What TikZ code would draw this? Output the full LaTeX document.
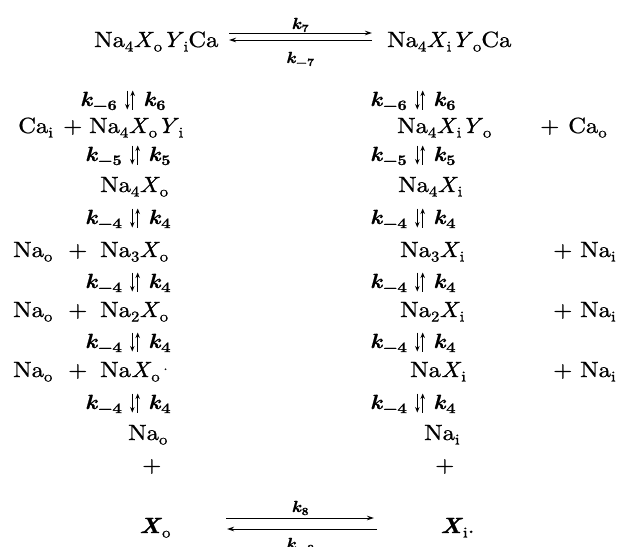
\documentclass[tikz,border=0pt]{standalone}
\usepackage{fontspec}
\setmainfont{lmroman10}[Extension=.otf, UprightFont=*-regular, BoldFont=*-bold, ItalicFont=*-italic, BoldItalicFont=*-bolditalic, FakeStretch=1.12, FakeBold=0.8]
\usetikzlibrary{arrows.meta}
\newcommand\sbs[1]{\raisebox{-4.5pt}{\fontsize{15}{15}\selectfont #1}}
\newcommand\kk[1]{\textbf{\textit{k}}\raisebox{-4pt}{\fontsize{14.5}{14.5}\selectfont\bfseries #1}}
\newcommand\hk[1]{\textbf{\textit{k}}\raisebox{-3pt}{\fontsize{11}{11}\selectfont\bfseries #1}}
\newcommand\iX{\textit{X}}
\newcommand\iY{\textit{Y}}
\newcommand\bX{\textbf{\textit{X}}}
\begin{document}
\begin{tikzpicture}[x=1pt,y=-1pt,
 sp/.style={anchor=base west, inner sep=0pt, font=\fontsize{22}{26}\selectfont},
 kl/.style={anchor=base east, inner sep=0pt, font=\fontsize{20.5}{24}\selectfont},
 kr/.style={anchor=base west, inner sep=0pt, font=\fontsize{20.5}{24}\selectfont},
 kh/.style={anchor=base, inner sep=0pt, font=\fontsize{16}{18}\selectfont},
 rx/.style={-{Stealth[length=7pt,width=4.5pt]}, line width=1pt},
 va/.style={-{Stealth[length=5.5pt,width=4.5pt]}, line width=0.9pt}]
\useasboundingbox (0,0) rectangle (623,546);

% top equilibrium
\node[sp] (t1) at (94,47) {Na\sbs{4}\iX\sbs{o}\iY\sbs{i}Ca};
\node[sp] (t2) at (387,47) {Na\sbs{4}\iX\sbs{i}\iY\sbs{o}Ca};
\coordinate (ta1) at (229,33); \coordinate (tb1) at (372,33);
\coordinate (ta2) at (372,40); \coordinate (tb2) at (229,40);
\draw[rx] (ta1) -- (tb1);
\draw[rx] (ta2) -- (tb2);
\node[kh] (k7) at (300,29) {\hk{7}};
\node[kh] (km7) at (300,63) {\hk{−7}};

% vertical double arrows with labels
\foreach \nm/\x/\y/\lab in {l6/130/100/6, l5/135/155/5, l4a/135/218/4, l4b/135/282/4, l4c/135/342/4, l4d/135/403/4,
                          r6/420/100/6, r5/420/155/5, r4a/420/218/4, r4b/420/282/4, r4c/420/342/4, r4d/420/403/4}{
  \coordinate (v\nm) at (\x,\y);
  \draw[va] ([xshift=-2.7pt,yshift=9.5pt]v\nm) -- ([xshift=-2.7pt,yshift=-9.5pt]v\nm);
  \draw[va] ([xshift=2.7pt,yshift=-9.5pt]v\nm) -- ([xshift=2.7pt,yshift=9.5pt]v\nm);
  \node[kl] (kl\nm) at ([xshift=-13pt,yshift=-6pt]v\nm) {\kk{−\lab}};
  \node[kr] (kr\nm) at ([xshift=13pt,yshift=-6pt]v\nm) {\kk{\lab}};
}

% left column
\node[sp] (cai) at (18,133) {Ca\sbs{i}};
\node[sp] (pc1) at (63,133) {+};
\node[sp] (l1) at (89,133) {Na\sbs{4}\iX\sbs{o}\iY\sbs{i}};
\node[sp] (l2) at (100,192) {Na\sbs{4}\iX\sbs{o}};
\node[sp] (nao3) at (13,257) {Na\sbs{o}};
\node[sp] (pl3) at (68,257) {+};
\node[sp] (l3) at (100,257) {Na\sbs{3}\iX\sbs{o}};
\node[sp] (nao4) at (13,317) {Na\sbs{o}};
\node[sp] (pl4) at (68,317) {+};
\node[sp] (l4) at (100,317) {Na\sbs{2}\iX\sbs{o}};
\node[sp] (nao5) at (13,377) {Na\sbs{o}};
\node[sp] (pl5) at (68,377) {+};
\node[sp] (l5) at (100,377) {Na\iX\sbs{o}\,{\fontsize{14}{14}\selectfont\raisebox{7pt}{.}}};
\node[sp] (l6) at (128,440) {Na\sbs{o}};
\node[sp] (pl6) at (142,472) {+};
\node[sp] (l7) at (139,533) {\bX\sbs{o}};

% right column
\node[sp] (r1) at (397,133) {Na\sbs{4}\iX\sbs{i}\iY\sbs{o}};
\node[sp] (pr1) at (540,133) {+};
\node[sp] (cao) at (568,133) {Ca\sbs{o}};
\node[sp] (r2) at (398,192) {Na\sbs{4}\iX\sbs{i}};
\node[sp] (r3) at (400,257) {Na\sbs{3}\iX\sbs{i}};
\node[sp] (pr3) at (553,257) {+};
\node[sp] (nai3) at (580,257) {Na\sbs{i}};
\node[sp] (r4) at (400,317) {Na\sbs{2}\iX\sbs{i}};
\node[sp] (pr4) at (553,317) {+};
\node[sp] (nai4) at (580,317) {Na\sbs{i}};
\node[sp] (r5) at (410,377) {Na\iX\sbs{i}};
\node[sp] (pr5) at (553,377) {+};
\node[sp] (nai5) at (580,377) {Na\sbs{i}};
\node[sp] (r6) at (424,440) {Na\sbs{i}};
\node[sp] (pr6) at (435,472) {+};
\node[sp] (r7) at (440,533) {\bX\sbs{i}.};

% bottom equilibrium
\coordinate (ba1) at (226,518); \coordinate (bb1) at (374,518);
\coordinate (ba2) at (377,529); \coordinate (bb2) at (227,529);
\draw[rx] (ba1) -- (bb1);
\draw[rx] (ba2) -- (bb2);
\node[kh] (k8) at (300,512) {\hk{8}};
\node[kh] (km8) at (300,549) {\hk{−8}};
\end{tikzpicture}
\end{document}
